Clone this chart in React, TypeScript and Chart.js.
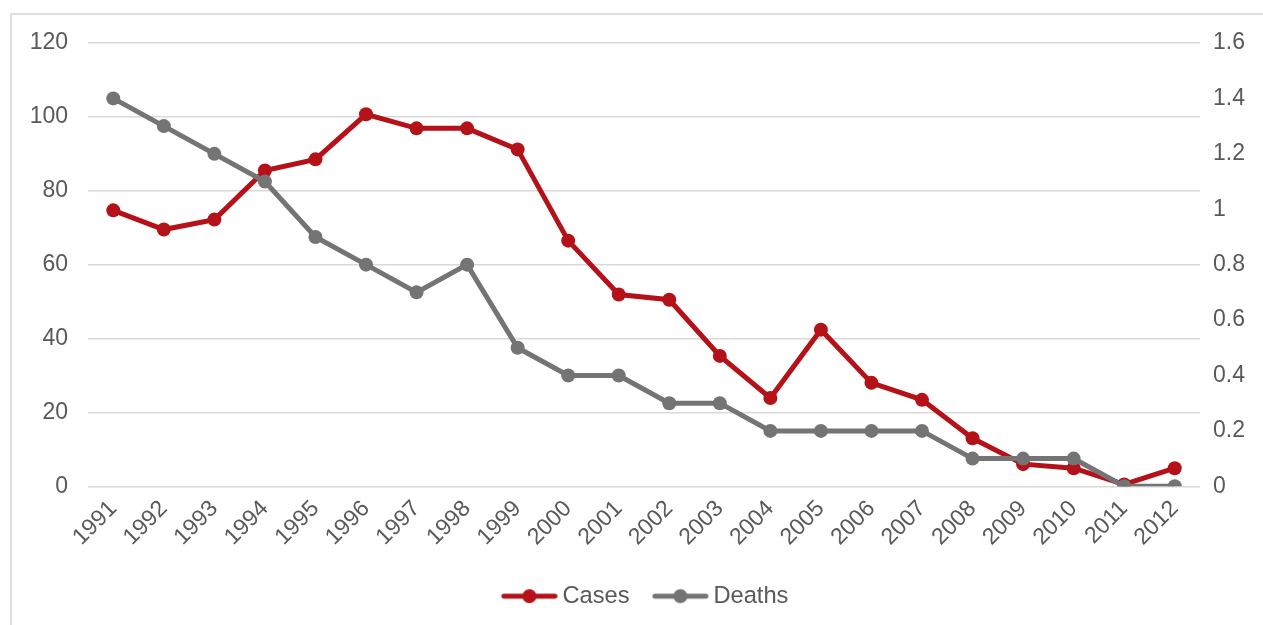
import React, { useEffect, useRef } from "react";
import { Chart, registerables } from "chart.js";

Chart.register(...registerables);

const years = ["1991","1992","1993","1994","1995","1996","1997","1998","1999","2000","2001","2002","2003","2004","2005","2006","2007","2008","2009","2010","2011","2012"];
const cases = [74.7, 69.5, 72.2, 85.5, 88.5, 100.7, 96.9, 96.9, 91.2, 66.5, 51.9, 50.5, 35.3, 23.9, 42.4, 28.0, 23.4, 13.0, 6.0, 4.9, 0.5, 4.9];
const deaths = [1.4, 1.3, 1.2, 1.1, 0.9, 0.8, 0.7, 0.8, 0.5, 0.4, 0.4, 0.3, 0.3, 0.2, 0.2, 0.2, 0.2, 0.1, 0.1, 0.1, 0, 0];
const seriesNames = ["Cases", "Deaths"];

const RED = "#b41218";
const GRAY = "#747474";
const TEXT = "#595959";
const GRID = "#d9d9d9";
const FAMILY = "'Liberation Sans', Arial, sans-serif";
const FONT = { family: FAMILY, size: 23 };
const LEGEND_FONT = { family: FAMILY, size: 23.7 };

function legendIcon(color: string): HTMLCanvasElement {
  const c = document.createElement("canvas");
  const w = 80, h = 16;
  c.width = w; c.height = h;
  const ctx = c.getContext("2d")!;
  ctx.strokeStyle = color;
  ctx.lineWidth = 5;
  ctx.lineCap = "round";
  ctx.beginPath();
  ctx.moveTo(21.35, h / 2);
  ctx.lineTo(72.35, h / 2);
  ctx.stroke();
  ctx.fillStyle = color;
  ctx.beginPath();
  ctx.arc(46.85, h / 2, 7, 0, Math.PI * 2);
  ctx.fill();
  return c;
}

export default function App() {
  const ref = useRef<HTMLCanvasElement>(null);
  useEffect(() => {
    const canvas = ref.current!;
    const icons = [legendIcon(RED), legendIcon(GRAY)];
    const chart = new Chart(canvas, {
      type: "line",
      data: {
        labels: years,
        datasets: [
          {
            label: seriesNames[0],
            data: cases,
            borderColor: RED,
            backgroundColor: RED,
            borderWidth: 5,
            pointRadius: 7,
            pointStyle: "circle",
            pointBackgroundColor: RED,
            pointBorderWidth: 0,
            tension: 0,
            yAxisID: "y",
            order: 2,
          },
          {
            label: seriesNames[1],
            data: deaths,
            borderColor: GRAY,
            backgroundColor: GRAY,
            borderWidth: 5,
            pointRadius: 7,
            pointStyle: "circle",
            pointBackgroundColor: GRAY,
            pointBorderWidth: 0,
            tension: 0,
            yAxisID: "y1",
            order: 1,
          },
        ],
      },
      options: {
        responsive: false,
        animation: false,
        layout: { padding: { top: 43, left: 20, right: 0, bottom: 7 } },
        plugins: {
          tooltip: { enabled: false },
          legend: {
            position: "bottom",
            labels: {
              usePointStyle: true,
              pointStyleWidth: 56,
              padding: 16,
              color: TEXT,
              font: LEGEND_FONT,
              generateLabels: (ch: any) => {
                const items = Chart.defaults.plugins.legend.labels.generateLabels(ch);
                items.forEach((it: any) => { it.pointStyle = icons[it.datasetIndex]; });
                return items;
              },
              sort: (a: any, b: any) => a.datasetIndex - b.datasetIndex,
            },
          },
        },
        scales: {
          x: {
            offset: true,
            grid: { display: false, drawTicks: false },
            border: { display: false },
            ticks: {
              color: TEXT,
              font: FONT,
              minRotation: 45,
              maxRotation: 45,
              autoSkip: false,
              padding: 9,
            },
            afterFit: (s: any) => { s.height = 82; },
          },
          y: {
            position: "left",
            min: 0,
            max: 120,
            grid: { color: GRID, lineWidth: 1.5, drawTicks: false },
            border: { display: false },
            ticks: { stepSize: 20, color: TEXT, font: FONT, padding: 20 },
            afterFit: (s: any) => { s.width = 68; },
          },
          y1: {
            position: "right",
            min: 0,
            max: 1.6,
            grid: { display: false, drawTicks: false },
            border: { display: false },
            ticks: {
              stepSize: 0.2,
              color: TEXT,
              font: FONT,
              padding: 13,
              callback: (v: any) => String(Math.round(Number(v) * 10) / 10),
            },
            afterFit: (s: any) => { s.width = 63; },
          },
        },
      },
    });
    return () => chart.destroy();
  }, []);

  return (
    <div style={{ position: "fixed", left: 0, top: 0, width: 1263, height: 625, background: "#fff", overflow: "hidden" }}>
      <div style={{ position: "absolute", left: 10, top: 13, width: 1270, height: 640, border: "2px solid #dedede", boxSizing: "border-box" }} />
      <canvas ref={ref} width={1263} height={625} style={{ position: "absolute", left: 0, top: 0, width: 1263, height: 625 }} />
    </div>
  );
}
